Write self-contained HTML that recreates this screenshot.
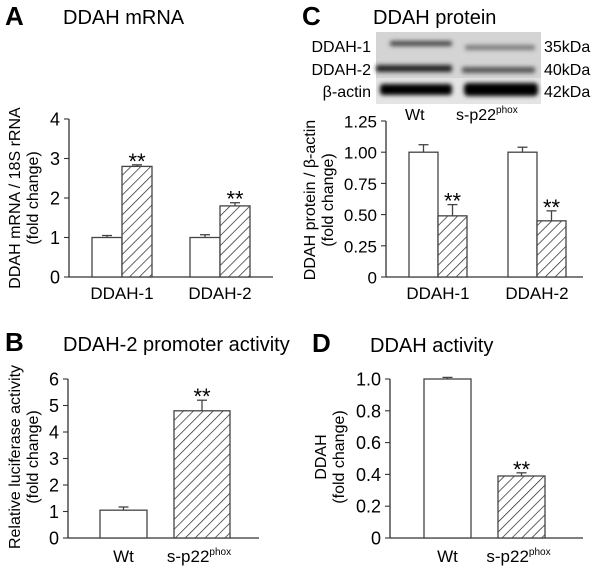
<!DOCTYPE html>
<html><head><meta charset="utf-8">
<style>
html,body{margin:0;padding:0;background:#fff;}
svg{display:block;font-family:"Liberation Sans",Arial,sans-serif;}
</style></head>
<body>
<svg id="fig" width="601" height="569" viewBox="0 0 601 569" xmlns="http://www.w3.org/2000/svg">
<defs>
<pattern id="hatch" patternUnits="userSpaceOnUse" width="7" height="7" patternTransform="rotate(45)">
<rect width="7" height="7" fill="#fff"/>
<line x1="0" y1="0" x2="0" y2="7" stroke="#222" stroke-width="1.4"/>
</pattern>
<filter id="blur"><feGaussianBlur stdDeviation="2"/></filter>
</defs>
<text x="5" y="25" font-size="26" font-weight="bold">A</text>
<text x="63" y="24" font-size="20">DDAH mRNA</text>
<text x="302" y="25" font-size="26" font-weight="bold">C</text>
<text x="373" y="24" font-size="20">DDAH protein</text>
<text x="5" y="351" font-size="26" font-weight="bold">B</text>
<text x="63" y="351" font-size="20">DDAH-2 promoter activity</text>
<text x="312" y="352" font-size="26" font-weight="bold">D</text>
<text x="370" y="352" font-size="20">DDAH activity</text>

<g>
<rect x="376" y="32" width="165" height="72" fill="#d4d4d4"/>
<rect x="376" y="78" width="165" height="26" fill="#e4e4e4"/>
<g filter="url(#blur)">
<rect x="390" y="41" width="62" height="5" rx="2" fill="#444"/>
<rect x="465" y="45" width="70" height="5" rx="2" fill="#7a7a7a"/>
<rect x="376" y="65" width="76" height="7" rx="2" fill="#222"/>
<rect x="462" y="67" width="73" height="6" rx="2" fill="#555"/>
<rect x="380" y="84" width="72" height="11" rx="3" fill="#000"/>
<rect x="464" y="83" width="74" height="13" rx="4" fill="#000"/>
</g>
</g>
<g font-size="16">
<text x="371" y="52" text-anchor="end">DDAH-1</text>
<text x="371" y="75" text-anchor="end">DDAH-2</text>
<text x="371" y="97" text-anchor="end">β-actin</text>
<text x="544" y="52">35kDa</text>
<text x="544" y="75">40kDa</text>
<text x="544" y="97">42kDa</text>
<text x="405" y="120">Wt</text>
<text x="456" y="120">s-p22<tspan font-size="10" dy="-7">phox</tspan></text>
</g>
<g id="charts"></g>
</svg>
<script>
// Panel A data
const aCats = ["DDAH-1", "DDAH-2"];
const aWt = [1.0, 1.0];
const aWtErr = [0.05, 0.07];
const aSp = [2.8, 1.8];
const aSpErr = [0.04, 0.08];
const aTicks = ["0", "1", "2", "3", "4"];
const aTickVals = [0, 1, 2, 3, 4];
// Panel C data
const cCats = ["DDAH-1", "DDAH-2"];
const cWt = [1.0, 1.0];
const cWtErr = [0.06, 0.04];
const cSp = [0.49, 0.45];
const cSpErr = [0.09, 0.08];
const cTicks = ["0", "0.25", "0.50", "0.75", "1.00", "1.25"];
const cTickVals = [0, 0.25, 0.5, 0.75, 1.0, 1.25];
// Panel B data
const bCats = ["Wt", "s-p22"];
const bVals = [1.05, 4.8];
const bErr = [0.12, 0.4];
const bTicks = ["0", "1", "2", "3", "4", "5", "6"];
const bTickVals = [0, 1, 2, 3, 4, 5, 6];
// Panel D data
const dCats = ["Wt", "s-p22"];
const dVals = [1.0, 0.39];
const dErr = [0.01, 0.02];
const dTicks = ["0", "0.2", "0.4", "0.6", "0.8", "1.0"];
const dTickVals = [0, 0.2, 0.4, 0.6, 0.8, 1.0];

const NS = "http://www.w3.org/2000/svg";
const root = document.getElementById("charts");
function mk(tag, attrs, parent) {
  const e = document.createElementNS(NS, tag);
  for (const k in attrs) e.setAttribute(k, attrs[k]);
  (parent || root).appendChild(e);
  return e;
}
function axes(cfg) {
  const g = mk("g", {});
  
  
  const y = v => cfg.y0 - (v - cfg.min) / (cfg.max - cfg.min) * (cfg.y0 - cfg.y1);
  mk("line", {x1: cfg.x0, y1: cfg.y0, x2: cfg.x0, y2: cfg.y1, stroke: "#333", "stroke-width": 1.3}, g);
  mk("line", {x1: cfg.x0, y1: cfg.y0, x2: cfg.xe, y2: cfg.y0, stroke: "#333", "stroke-width": 1.3}, g);
  cfg.tickVals.forEach((v, i) => {
    mk("line", {x1: cfg.x0 - 5, y1: y(v), x2: cfg.x0, y2: y(v), stroke: "#333", "stroke-width": 1.1}, g);
    const t = mk("text", {x: cfg.x0 - 9, y: y(v) + 6.5, "text-anchor": "end", "font-size": cfg.fs || 18}, g);
    t.textContent = cfg.ticks[i];
    
    
  });
  const tt = mk("text", {transform: `translate(${cfg.tx},${cfg.ty}) rotate(-90)`, "text-anchor": "middle", "font-size": 16}, g);
  
  
  cfg.title.forEach((s, i) => {
    const ts = mk("tspan", {x: 0, dy: i === 0 ? 0 : 18}, tt);
    ts.textContent = s;
  });
  return y;
}
function bar(x, w, val, err, y, filled, name, star) {
  const top = y(val), base = y(0), et = y(val + err);
  mk("line", {x1: x + w / 2, y1: top, x2: x + w / 2, y2: et, stroke: "#444", "stroke-width": 1.3});
  mk("line", {x1: x + w / 2 - 5, y1: et, x2: x + w / 2 + 5, y2: et, stroke: "#444", "stroke-width": 1.3});
  const r = mk("rect", {x: x, y: top, width: w, height: base - top, fill: filled ? "url(#hatch)" : "#fff", stroke: "#444", "stroke-width": 1.3});
  
  
  if (star) {
    const s = mk("text", {x: x + w / 2, y: et + 4, "text-anchor": "middle", "font-size": 22});
    s.textContent = "**";
    
    
  }
}
function catLabel(x, y, txt, name, sup) {
  const t = mk("text", {x: x, y: y, "text-anchor": "middle", "font-size": 17});
  t.textContent = txt;
  if (sup) { const s = mk("tspan", {"font-size": 10, dy: -7}, t); s.textContent = "phox"; }
  
  
}

{
  const y = axes({name: "panel-a", x0: 69, xe: 273, y0: 277, y1: 119, min: 0, max: 4, ticks: aTicks, tickVals: aTickVals, tx: 20, ty: 198, title: ["DDAH mRNA / 18S rRNA", "(fold change)"]});
  const starts = [92, 190];
  aCats.forEach((c, i) => {
    bar(starts[i], 30, aWt[i], aWtErr[i], y, false, "bar-a-wt-" + c.toLowerCase(), false);
    bar(starts[i] + 30, 30, aSp[i], aSpErr[i], y, true, "bar-a-sp22-" + c.toLowerCase(), true);
    catLabel(starts[i] + 30, 299, c, "panel-a-x-label");
  });
}
{
  const y = axes({name: "panel-c", x0: 386, xe: 583, y0: 277, y1: 121, min: 0, max: 1.25, ticks: cTicks, tickVals: cTickVals, tx: 315, ty: 200, fs: 17, title: ["DDAH protein / β-actin", "(fold change)"]});
  const starts = [409, 508];
  cCats.forEach((c, i) => {
    bar(starts[i], 29, cWt[i], cWtErr[i], y, false, "bar-c-wt-" + c.toLowerCase(), false);
    bar(starts[i] + 29, 29, cSp[i], cSpErr[i], y, true, "bar-c-sp22-" + c.toLowerCase(), true);
    catLabel(starts[i] + 29, 299, c, "panel-c-x-label");
  });
}
{
  const y = axes({name: "panel-b", x0: 68, xe: 259, y0: 538, y1: 379, min: 0, max: 6, ticks: bTicks, tickVals: bTickVals, tx: 20, ty: 457, title: ["Relative luciferase activity", "(fold change)"]});
  const starts = [100, 174], widths = [47, 56];
  bCats.forEach((c, i) => {
    bar(starts[i], widths[i], bVals[i], bErr[i], y, i === 1, "bar-b-" + c.toLowerCase(), i === 1);
    catLabel(starts[i] + widths[i] / 2 + (i === 1 ? -3 : 0), 562, c, "panel-b-x-label", i === 1);
  });
}
{
  const y = axes({name: "panel-d", x0: 390, xe: 583, y0: 538, y1: 379, min: 0, max: 1.0, ticks: dTicks, tickVals: dTickVals, tx: 326, ty: 457, title: ["DDAH", "(fold change)"]});
  const starts = [424, 498];
  dCats.forEach((c, i) => {
    bar(starts[i], 47, dVals[i], dErr[i], y, i === 1, "bar-d-" + c.toLowerCase(), i === 1);
    catLabel(starts[i] + 23.5 + (i === 1 ? -3 : 0), 562, c, "panel-d-x-label", i === 1);
  });
}
</script>
</body></html>
